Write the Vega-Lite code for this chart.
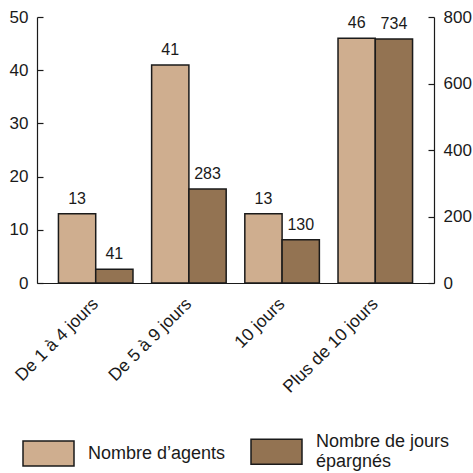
{
  "$schema": "https://vega.github.io/schema/vega-lite/v6.json",
  "autosize": {"type": "none"},
  "width": 397,
  "height": 266,
  "padding": {"left": 37, "top": 17, "right": 39, "bottom": 190},
  "background": "white",
  "config": {
    "view": {"stroke": null},
    "font": "Liberation Sans",
    "axis": {"labelFont": "Liberation Sans", "labelColor": "#1a1a1a", "domainColor": "#1a1a1a", "tickColor": "#1a1a1a", "grid": false, "title": null, "domainWidth": 1.2, "tickWidth": 1.2}
  },
  "data": {
    "values": [
      {"cat": "De 1 à 4 jours", "series": "Nombre d’agents", "value": 13},
      {"cat": "De 5 à 9 jours", "series": "Nombre d’agents", "value": 41},
      {"cat": "10 jours", "series": "Nombre d’agents", "value": 13},
      {"cat": "Plus de 10 jours", "series": "Nombre d’agents", "value": 46},
      {"cat": "De 1 à 4 jours", "series": "Nombre de jours épargnés", "value": 41},
      {"cat": "De 5 à 9 jours", "series": "Nombre de jours épargnés", "value": 283},
      {"cat": "10 jours", "series": "Nombre de jours épargnés", "value": 130},
      {"cat": "Plus de 10 jours", "series": "Nombre de jours épargnés", "value": 734}
    ]
  },
  "encoding": {
    "x": {
      "field": "cat", "type": "nominal", "sort": null,
      "scale": {"paddingInner": 0.2, "paddingOuter": 0.23},
      "axis": {"labelAngle": -45, "labelAlign": "right", "labelBaseline": "middle", "labelFontSize": 17.5, "ticks": false, "labelPadding": 18}
    },
    "xOffset": {"field": "series", "type": "nominal", "scale": {"domain": ["Nombre d’agents", "Nombre de jours épargnés"], "paddingInner": 0, "paddingOuter": 0}},
    "color": {
      "field": "series", "type": "nominal",
      "scale": {"domain": ["Nombre d’agents", "Nombre de jours épargnés"], "range": ["#CFAE8F", "#937352"]},
      "legend": {
        "orient": "none", "legendX": -15, "legendY": 408, "direction": "horizontal", "columns": 2,
        "title": null, "padding": 0, "columnPadding": 22,
        "symbolType": "M-1,-0.49H1V0.49H-1Z", "symbolSize": 2601, "symbolStrokeColor": "#1a1a1a", "symbolStrokeWidth": 1.5, "symbolOpacity": 1,
        "labelFontSize": 18, "labelFont": "Liberation Sans", "labelColor": "#1a1a1a", "labelOffset": 13, "labelLimit": 300,
        "labelExpr": "datum.label == 'Nombre de jours épargnés' ? ['Nombre de jours', 'épargnés'] : datum.label",
        "encode": {"labels": {"update": {"dy": {"signal": "datum.index == 1 ? -10 : 0"}, "lineHeight": {"value": 20}}}}
      }
    }
  },
  "layer": [
    {
      "transform": [{"filter": "datum.series == 'Nombre d’agents'"}],
      "encoding": {
        "y": {"field": "value", "type": "quantitative", "scale": {"domain": [0, 50]},
          "axis": {"orient": "left", "values": [0, 10, 20, 30, 40, 50], "labelFontSize": 17, "tickSize": -6, "labelPadding": 15}}
      },
      "layer": [
        {"mark": {"type": "bar", "stroke": "#1a1a1a", "strokeWidth": 1.5, "opacity": 1}},
        {"mark": {"type": "text", "baseline": "alphabetic", "dy": -10, "fontSize": 16, "color": "#1a1a1a"}, "encoding": {"text": {"field": "value", "type": "quantitative"}, "color": {"value": "#1a1a1a"}}}
      ]
    },
    {
      "transform": [{"filter": "datum.series == 'Nombre de jours épargnés'"}],
      "encoding": {
        "y": {"field": "value", "type": "quantitative", "scale": {"domain": [0, 800]},
          "axis": {"orient": "right", "values": [0, 200, 400, 600, 800], "labelFontSize": 17, "tickSize": -6, "labelPadding": 15}}
      },
      "layer": [
        {"mark": {"type": "bar", "stroke": "#1a1a1a", "strokeWidth": 1.5, "opacity": 1}},
        {"mark": {"type": "text", "baseline": "alphabetic", "dy": -10, "fontSize": 16, "color": "#1a1a1a"}, "encoding": {"text": {"field": "value", "type": "quantitative"}, "color": {"value": "#1a1a1a"}}}
      ]
    }
  ],
  "resolve": {"scale": {"y": "independent"}}
}
